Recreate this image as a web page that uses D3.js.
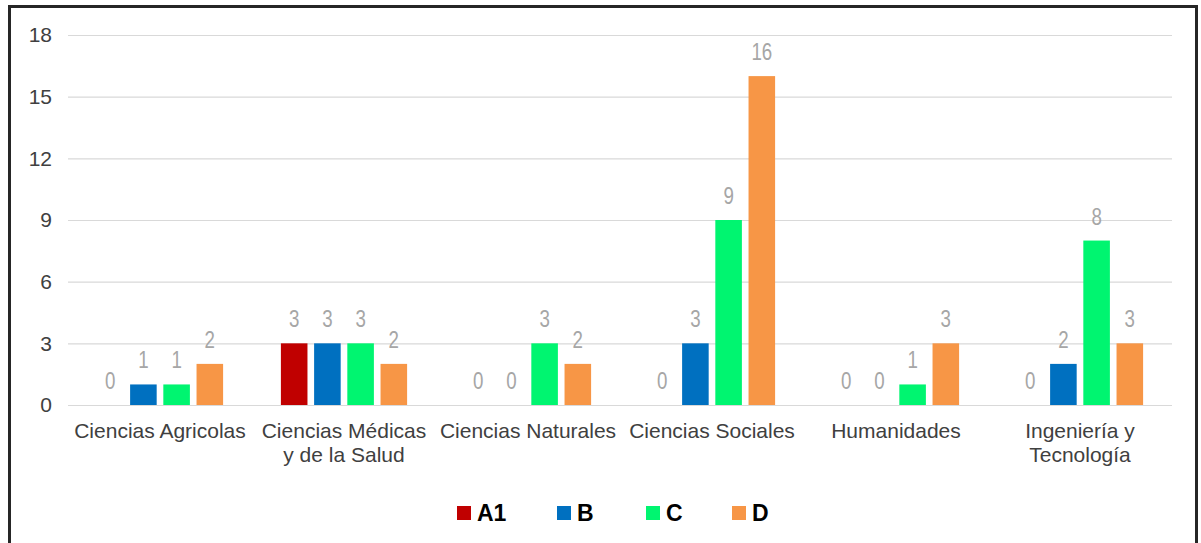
<!DOCTYPE html>
<html>
<head>
<meta charset="utf-8">
<script src="https://cdn.jsdelivr.net/npm/d3@7"></script>
<style>
  html, body { margin: 0; padding: 0; background: #ffffff; }
  svg { display: block; }
</style>
</head>
<body>
<svg id="chart" width="1201" height="543"></svg>
<script>
// Categories (each entry is a list of label lines)
const categories = [
  ["Ciencias Agricolas"],
  ["Ciencias Médicas", "y de la Salud"],
  ["Ciencias Naturales"],
  ["Ciencias Sociales"],
  ["Humanidades"],
  ["Ingeniería y", "Tecnología"]
];
const seriesNames = ["A1", "B", "C", "D"];
const seriesA1 = [0, 3, 0, 0, 0, 0];
const seriesB  = [1, 3, 0, 3, 0, 2];
const seriesC  = [1, 3, 3, 9, 1, 8];
const seriesD  = [2, 2, 2, 16, 3, 3];
const yTicks = [0, 3, 6, 9, 12, 15, 18];
const colors = ["#C00000", "#0070C0", "#00F570", "#F79646"];

const seriesValues = [seriesA1, seriesB, seriesC, seriesD];

const svg = d3.select("#chart");
const font = "'Liberation Sans', Arial, sans-serif";

// Outer frame
svg.append("rect")
  .attr("x", 9.5).attr("y", 6.5)
  .attr("width", 1187).attr("height", 560)
  .attr("fill", "none")
  .attr("stroke", "#262626")
  .attr("stroke-width", 3);

const plot = { left: 68, right: 1172, top: 35, bottom: 405 };

const y = d3.scaleLinear().domain([0, 18]).range([plot.bottom, plot.top]);
const x0 = d3.scaleBand()
  .domain(d3.range(categories.length))
  .range([plot.left, plot.right])
  .padding(0);
const groupW = x0.bandwidth();
const x1 = d3.scaleBand()
  .domain(seriesNames)
  .range([groupW * 0.139, groupW * 0.861])
  .paddingInner(0.2)
  .paddingOuter(0.1);

// Gridlines + y labels via axis
const yAxis = d3.axisLeft(y)
  .tickValues(yTicks)
  .tickSize(-(plot.right - plot.left))
  .tickPadding(16);
const gy = svg.append("g")
  .attr("transform", `translate(${plot.left},0)`)
  .call(yAxis);
gy.select(".domain").remove();
gy.selectAll(".tick line").attr("stroke", "#d9d9d9").attr("stroke-width", 1.2);
gy.selectAll(".tick text")
  .attr("fill", "#404040")
  .style("font-family", font)
  .style("font-size", "21px")
  .attr("text-anchor", "end")
  .attr("x", -16);

// Bars
const groups = svg.append("g").selectAll("g")
  .data(categories.map((c, i) => i))
  .join("g")
  .attr("transform", i => `translate(${x0(i)},0)`);

groups.selectAll("rect")
  .data(i => seriesNames.map((s, k) => ({ s, k, v: seriesValues[k][i] })))
  .join("rect")
  .attr("x", d => x1(d.s))
  .attr("width", x1.bandwidth())
  .attr("y", d => y(d.v))
  .attr("height", d => y(0) - y(d.v))
  .attr("fill", d => colors[d.k]);

// Value labels (grey, narrow)
groups.selectAll("text.val")
  .data(i => seriesNames.map((s, k) => ({ s, k, v: seriesValues[k][i] })))
  .join("text")
  .attr("class", "val")
  .attr("transform", d => `translate(${x1(d.s) + x1.bandwidth() / 2},${y(d.v) - 16}) scale(0.78,1)`)
  .attr("text-anchor", "middle")
  .attr("fill", "#a6a6a6")
  .style("font-family", font)
  .style("font-size", "24px")
  .text(d => d.v);

// Category labels
const catG = svg.append("g");
categories.forEach((lines, i) => {
  const t = catG.append("text")
    .attr("x", x0(i) + groupW / 2)
    .attr("y", 438)
    .attr("text-anchor", "middle")
    .attr("fill", "#404040")
    .style("font-family", font)
    .style("font-size", "21px");
  lines.forEach((ln, j) => {
    t.append("tspan")
      .attr("x", x0(i) + groupW / 2)
      .attr("dy", j === 0 ? 0 : 24)
      .text(ln);
  });
});

// Legend
const legendX = [457, 557, 646, 732];
const legend = svg.append("g");
seriesNames.forEach((s, k) => {
  legend.append("rect")
    .attr("x", legendX[k]).attr("y", 506)
    .attr("width", 14).attr("height", 14)
    .attr("fill", colors[k]);
  legend.append("text")
    .attr("x", legendX[k] + 20).attr("y", 521)
    .attr("fill", "#000000")
    .style("font-family", font)
    .style("font-size", "23px")
    .style("font-weight", "bold")
    .text(s);
});
</script>
</body>
</html>
